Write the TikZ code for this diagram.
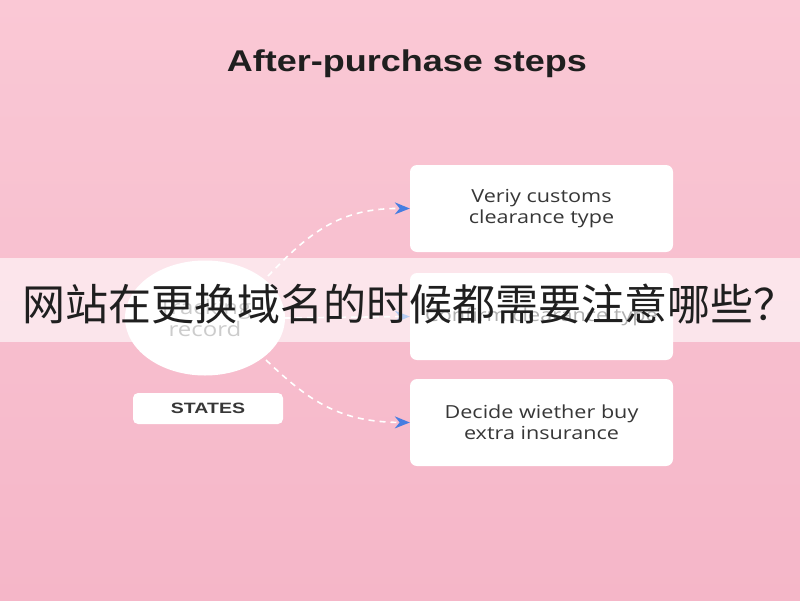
\documentclass[tikz,border=0pt]{standalone}
\usepackage{fontspec}
\setmainfont{Liberation Sans}
\newfontfamily\cjk{Noto Sans CJK SC}
\newfontfamily\boxfont{Open Sans}
\usetikzlibrary{arrows.meta,shapes.geometric}
\definecolor{pinktop}{RGB}{250,200,213}
\definecolor{pinkbot}{RGB}{245,182,200}
\definecolor{txtgray}{RGB}{55,55,55}
\definecolor{arrowblue}{RGB}{70,125,225}
\newcommand\widetxt[1]{\scalebox{1.2}[1]{#1}}
\tikzset{
  stepbox/.style={draw=none, fill=white, rounded corners=7pt, minimum width=263pt, minimum height=87pt, align=center, font=\boxfont\fontsize{18}{21}\selectfont, text=txtgray},
  flow/.style={draw=white, line width=1.6pt, dash pattern=on 6pt off 5pt, -{Stealth[length=15pt,width=12pt,color=arrowblue]}},
}
\begin{document}
\begin{tikzpicture}[x=1pt,y=-1pt]
\useasboundingbox (0,0) rectangle (800,600);
\shade[top color=pinktop, bottom color=pinkbot] (0,0) rectangle (800,600);
\node[font=\bfseries\fontsize{30}{34}\selectfont, text=black!88] (title) at (407,64) {\scalebox{1.2}[1]{After-purchase steps}};
\node[ellipse, fill=white, minimum width=160pt, minimum height=115pt, align=center, font=\boxfont\fontsize{20}{22}\selectfont, text=gray] (rec) at (205,318) {\widetxt{Tracking}\\\widetxt{record}};
\node[fill=white, rounded corners=5pt, minimum width=150pt, minimum height=31pt, font=\bfseries\fontsize{15}{17}\selectfont, text=txtgray] (states) at (208,408.5) {\scalebox{1.3}[1]{STATES}};
\node[stepbox] (b1) at (541.5,208.5) {\widetxt{Veriy customs}\\\widetxt{clearance type}};
\node[stepbox] (b2) at (541.5,316.5) {\widetxt{Confirm clearance type}};
\node[stepbox] (b3) at (541.5,422.5) {\widetxt{Decide wiether buy}\\\widetxt{extra insurance}};
\coordinate (s1) at (268,276);
\coordinate (s3) at (266,360);
\draw[flow] (s1) .. controls (310,232) and (340,208) .. (b1.west);
\draw[flow] (rec.east) -- (b2.west);
\draw[flow] (s3) .. controls (310,402) and (340,422) .. (b3.west);
\fill[white, opacity=0.6] (0,258) rectangle (800,342);
\node[font=\cjk\fontsize{43}{46}\selectfont, text=black!88, anchor=west, inner sep=0pt] (banner) at (22,304) {网站在更换域名的时候都需要注意哪些？};
\end{tikzpicture}
\end{document}
